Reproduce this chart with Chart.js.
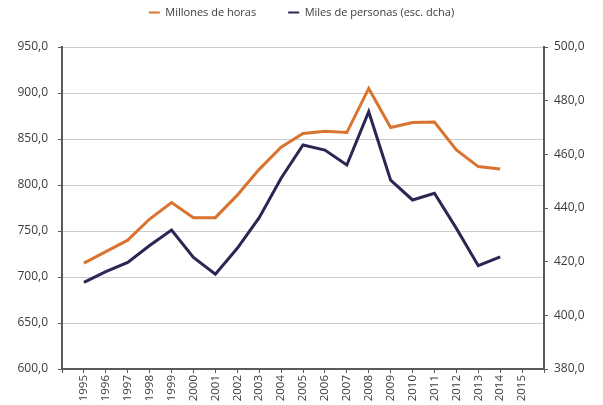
<!DOCTYPE html>
<html>
<head>
<meta charset="utf-8">
<script src="https://cdn.jsdelivr.net/npm/chart.js@4"></script>
<style>
  html, body { margin: 0; padding: 0; background: #fff; }
  #wrap { width: 603px; height: 405px; }
</style>
</head>
<body>
<div id="wrap"><canvas id="chart"></canvas></div>
<script>
// Años del eje horizontal
var years = [1995, 1996, 1997, 1998, 1999, 2000, 2001, 2002, 2003, 2004,
             2005, 2006, 2007, 2008, 2009, 2010, 2011, 2012, 2013, 2014, 2015];

// Millones de horas (eje izquierdo)
var horas = [715, 727.5, 740, 763, 781, 764.5, 764.5, 789, 817, 841,
             856, 858.5, 857, 905, 862.5, 868, 868.5, 838, 820, 817.5];

// Miles de personas (eje derecho)
var personas = [412.3, 416.3, 419.7, 426, 431.8, 421.6, 415.3, 425, 436.4, 451.1,
                463.5, 461.6, 456, 475.9, 450.4, 443, 445.5, 432.4, 418.5, 421.8];

var leftTicks = [600, 650, 700, 750, 800, 850, 900, 950];
var rightTicks = [380, 400, 420, 440, 460, 480, 500];

function toPoints(values) {
  return values.map(function(v, i) { return { x: years[i], y: v }; });
}

function fmt(v) {
  return v.toFixed(1).replace('.', ',');
}

var textColor = '#3c3c3c';
var axisColor = '#5a5a5a';
var tickFont = { family: 'Open Sans', size: 12 };
var yearFont = { family: 'Open Sans', size: 11.5 };
var legendFont = { family: 'Open Sans', size: 11 };
var legendPadding = 32;

Chart.defaults.font.family = 'Open Sans';
Chart.defaults.color = textColor;

// leyenda arriba con más aire hasta el área del gráfico
var legendSpace = {
  id: 'legendSpace',
  beforeInit: function(chart) {
    var fit = chart.legend.fit;
    chart.legend.fit = function() {
      fit.call(this);
      this.height = 47;
    };
  },
  afterLayout: function(chart) {
    var lg = chart.legend;
    var h = lg.bottom - lg.top;
    lg.top = 7 - legendPadding;
    lg.bottom = lg.top + h;
  }
};

var ctx = document.getElementById('chart').getContext('2d');

var chart = new Chart(ctx, {
  type: 'line',
  data: {
    datasets: [{
      label: 'Millones de horas',
      data: toPoints(horas),
      borderColor: '#d9732f',
      backgroundColor: '#d9732f',
      borderWidth: 3,
      pointRadius: 0,
      tension: 0,
      yAxisID: 'y'
    }, {
      label: 'Miles de personas (esc. dcha)',
      data: toPoints(personas),
      borderColor: '#2b2653',
      backgroundColor: '#2b2653',
      borderWidth: 3,
      pointRadius: 0,
      tension: 0,
      yAxisID: 'y1'
    }]
  },
  plugins: [legendSpace],
  options: {
    responsive: true,
    maintainAspectRatio: false,
    animation: false,
    layout: { padding: 0 },
    plugins: {
      tooltip: { enabled: false },
      legend: {
        position: 'top',
        labels: {
          font: legendFont,
          color: textColor,
          usePointStyle: true,
          pointStyle: 'line',
          pointStyleWidth: 11,
          boxHeight: 8,
          padding: legendPadding,
          generateLabels: function(chart) {
            var items = Chart.defaults.plugins.legend.labels.generateLabels(chart);
            items.forEach(function(it) { it.lineWidth = 2; it.pointStyle = 'line'; });
            return items;
          }
        }
      }
    },
    scales: {
      x: {
        type: 'linear',
        min: years[0] - 1,
        max: years[years.length - 1] + 1,
        afterBuildTicks: function(scale) {
          var t = [{ value: years[0] - 1 }];
          years.forEach(function(y) { t.push({ value: y }); });
          t.push({ value: years[years.length - 1] + 1 });
          scale.ticks = t;
        },
        afterFit: function(scale) { scale.height = 36; },
        border: { display: true, color: axisColor, width: 2 },
        grid: {
          drawOnChartArea: false,
          drawTicks: true,
          tickLength: 4,
          tickColor: axisColor
        },
        ticks: {
          autoSkip: false,
          maxRotation: 90,
          minRotation: 90,
          padding: 2,
          font: yearFont,
          color: textColor,
          callback: function(v) {
            return years.indexOf(v) >= 0 ? String(v) : '';
          }
        }
      },
      y: {
        position: 'left',
        min: leftTicks[0],
        max: leftTicks[leftTicks.length - 1],
        afterBuildTicks: function(scale) {
          scale.ticks = leftTicks.map(function(v) { return { value: v }; });
        },
        afterFit: function(scale) { scale.width = 62; },
        border: { display: true, color: axisColor, width: 2 },
        grid: {
          color: '#cccccc',
          lineWidth: 1,
          tickLength: 4,
          tickColor: axisColor
        },
        ticks: {
          padding: 10,
          font: tickFont,
          color: textColor,
          callback: function(v) { return fmt(v); }
        }
      },
      y1: {
        position: 'right',
        min: rightTicks[0],
        max: rightTicks[rightTicks.length - 1],
        afterBuildTicks: function(scale) {
          scale.ticks = rightTicks.map(function(v) { return { value: v }; });
        },
        afterFit: function(scale) { scale.width = 59; },
        border: { display: true, color: axisColor, width: 2 },
        grid: {
          drawOnChartArea: false,
          tickLength: 4,
          tickColor: axisColor
        },
        ticks: {
          padding: 6,
          font: tickFont,
          color: textColor,
          callback: function(v) { return fmt(v); }
        }
      }
    }
  }
});
</script>
</body>
</html>
